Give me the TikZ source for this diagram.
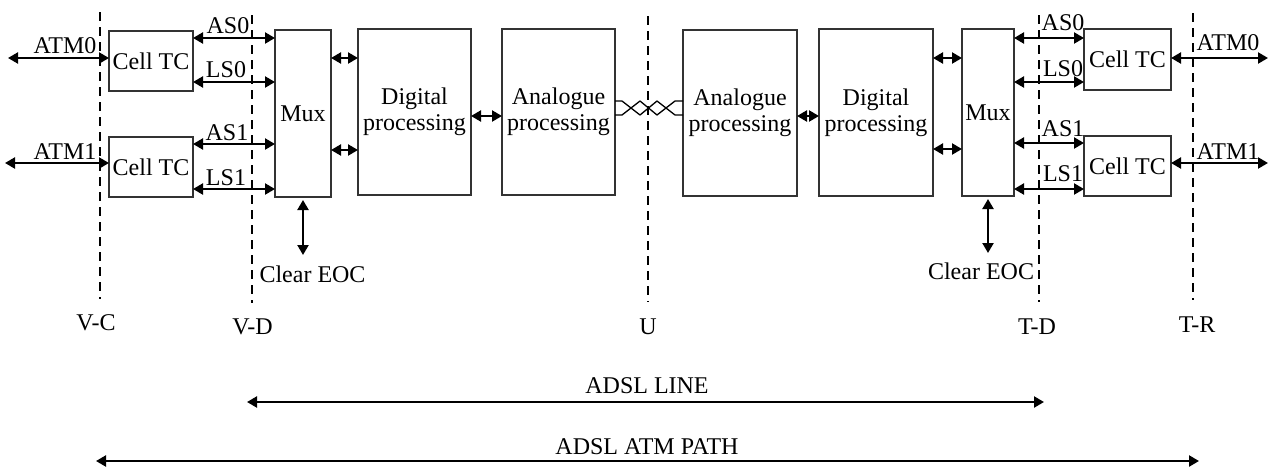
\documentclass[tikz,border=0pt]{standalone}
\usepackage{fontspec}
\setmainfont{Liberation Serif}
\usetikzlibrary{arrows.meta}
\begin{document}
\begin{tikzpicture}[x=1pt,y=-1pt,
  every node/.style={font=\fontsize{24}{26}\selectfont, inner sep=0pt, outer sep=0pt},
  blk/.style={draw=black!80, line width=1.3pt, fill=white, align=center},
  dbl/.style={line width=2.2pt, {Triangle[length=10pt,width=11pt]}-{Triangle[length=10pt,width=11pt]}},
  bound/.style={line width=2.3pt, dash pattern=on 9pt off 6pt},
  wire/.style={line width=1.3pt, line join=round}]
\useasboundingbox (0,0) rectangle (1273,466);

% blocks (left side)
\node[blk, minimum width=84pt, minimum height=60pt] (ctcL0) at (151,61) {Cell TC};
\node[blk, minimum width=84pt, minimum height=60pt] (ctcL1) at (151,167) {Cell TC};
\node[blk, minimum width=56pt, minimum height=167pt] (muxL) at (303,113.5) {Mux};
\node[blk, minimum width=113pt, minimum height=166pt] (digL) at (414.5,112) {Digital\\processing};
\node[blk, minimum width=113pt, minimum height=166pt] (anaL) at (558.5,112) {Analogue\\processing};
% blocks (right side)
\node[blk, minimum width=114pt, minimum height=166pt] (anaR) at (740,113) {Analogue\\processing};
\node[blk, minimum width=114pt, minimum height=167pt] (digR) at (876,112.5) {Digital\\processing};
\node[blk, minimum width=52pt, minimum height=167pt] (muxR) at (988,112.5) {Mux};
\node[blk, minimum width=87pt, minimum height=61pt] (ctcR0) at (1127.5,59.5) {Cell TC};
\node[blk, minimum width=87pt, minimum height=60pt] (ctcR1) at (1127.5,166) {Cell TC};

% boundary lines
\coordinate (vcT) at (100,12);  \coordinate (vcB) at (100,299);
\coordinate (vdT) at (252,15);  \coordinate (vdB) at (252,303);
\coordinate (uT) at (648,16);   \coordinate (uB) at (648,302);
\coordinate (tdT) at (1039,15); \coordinate (tdB) at (1039,302);
\coordinate (trT) at (1193,13); \coordinate (trB) at (1193,300);
\draw[bound] (vcT) -- (vcB);
\draw[bound] (vdT) -- (vdB);
\draw[bound] (uT) -- (uB);
\draw[bound] (tdT) -- (tdB);
\draw[bound] (trT) -- (trB);
\node (vcL) at (96,323) {V-C};
\node (vdL) at (252.5,327) {V-D};
\node (uL) at (648,327) {U};
\node (tdL) at (1037,327) {T-D};
\node (trL) at (1197,325) {T-R};

% ATM arrows left
\coordinate (atmL0) at (8,58);
\coordinate (atmL1) at (5,163);
\draw[dbl] (atmL0) -- (atmL0 -| ctcL0.west);
\draw[dbl] (atmL1) -- (atmL1 -| ctcL1.west);
\node (atmL0t) at (65,46) {ATM0};
\node (atmL1t) at (65,152) {ATM1};

% ATM arrows right
\coordinate (atmR0) at (1268,58);
\coordinate (atmR1) at (1268,163);
\draw[dbl] (atmR0 -| ctcR0.east) -- (atmR0);
\draw[dbl] (atmR1 -| ctcR1.east) -- (atmR1);
\node (atmR0t) at (1228,43) {ATM0};
\node (atmR1t) at (1228,152) {ATM1};

% AS/LS left
\coordinate (asL0) at (228,38);
\coordinate (lsL0) at (228,82);
\coordinate (asL1) at (228,144);
\coordinate (lsL1) at (228,189);
\draw[dbl] (asL0 -| ctcL0.east) -- (asL0 -| muxL.west);
\draw[dbl] (lsL0 -| ctcL0.east) -- (lsL0 -| muxL.west);
\draw[dbl] (asL1 -| ctcL1.east) -- (asL1 -| muxL.west);
\draw[dbl] (lsL1 -| ctcL1.east) -- (lsL1 -| muxL.west);
\node (asL0t) at (228,26) {AS0};
\node (lsL0t) at (226,70) {LS0};
\node (asL1t) at (227,133) {AS1};
\node (lsL1t) at (226,178) {LS1};

% AS/LS right
\coordinate (asR0) at (1063,38);
\coordinate (lsR0) at (1063,82);
\coordinate (asR1) at (1063,143);
\coordinate (lsR1) at (1063,189);
\draw[dbl] (asR0 -| muxR.east) -- (asR0 -| ctcR0.west);
\draw[dbl] (lsR0 -| muxR.east) -- (lsR0 -| ctcR0.west);
\draw[dbl] (asR1 -| muxR.east) -- (asR1 -| ctcR1.west);
\draw[dbl] (lsR1 -| muxR.east) -- (lsR1 -| ctcR1.west);
\node (asR0t) at (1063,23) {AS0};
\node (lsR0t) at (1063,69) {LS0};
\node (asR1t) at (1063,129) {AS1};
\node (lsR1t) at (1063,174) {LS1};

% Mux <-> Digital
\coordinate (mdA) at (344,58);
\coordinate (mdB) at (344,150);
\draw[dbl] (mdA -| muxL.east) -- (mdA -| digL.west);
\draw[dbl] (mdB -| muxL.east) -- (mdB -| digL.west);
\coordinate (mdC) at (947,58);
\coordinate (mdD) at (947,149);
\draw[dbl] (mdC -| digR.east) -- (mdC -| muxR.west);
\draw[dbl] (mdD -| digR.east) -- (mdD -| muxR.west);

% Digital <-> Analogue
\coordinate (daL) at (486,116);
\coordinate (daR) at (808,116);
\draw[dbl] (daL -| digL.east) -- (daL -| anaL.west);
\draw[dbl] (daR -| anaR.east) -- (daR -| digR.west);

% twisted pair
\coordinate (twA) at (615,101);
\coordinate (twB) at (615,115);
\draw[wire] (twA) -- (622,101) -- (640,115) -- (657,101) -- (675,115) -- (twB -| anaR.west);
\draw[wire] (twB) -- (622,115) -- (640,101) -- (657,115) -- (675,101) -- (twA -| anaR.west);

% Clear EOC
\coordinate (eocL) at (303,255);
\coordinate (eocR) at (988,253);
\draw[dbl] ([yshift=-3pt]muxL.south) -- (eocL);
\draw[dbl] ([yshift=-3pt]muxR.south) -- (eocR);
\node (eocLt) at (312.5,274) {Clear EOC};
\node (eocRt) at (981,271) {Clear EOC};

% ADSL spans
\coordinate (lineL) at (247,402);
\coordinate (lineR) at (1044,402);
\draw[dbl] (lineL) -- (lineR);
\node (lineT) at (647,386) {ADSL LINE};
\coordinate (pathL) at (96,461);
\coordinate (pathR) at (1199,461);
\draw[dbl] (pathL) -- (pathR);
\node (pathT) at (647,447) {ADSL ATM PATH};
\end{tikzpicture}
\end{document}
